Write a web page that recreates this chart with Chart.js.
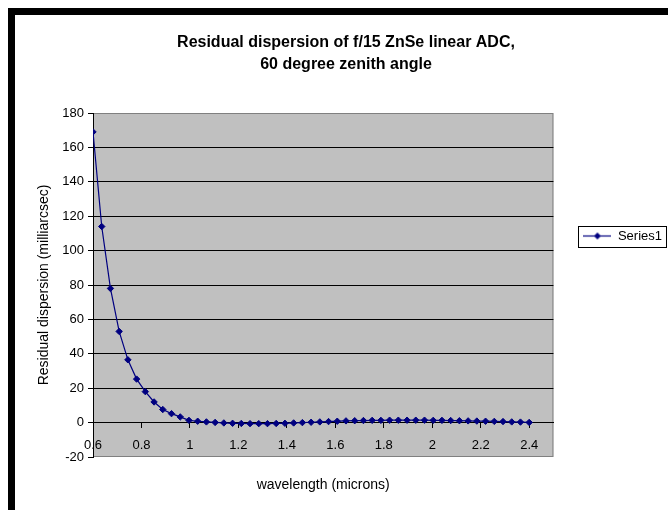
<!DOCTYPE html>
<html>
<head>
<meta charset="utf-8">
<script src="https://cdn.jsdelivr.net/npm/chart.js@4/dist/chart.umd.min.js"></script>
<style>
  html, body { margin: 0; padding: 0; background: #fff; }
  #wrap { width: 668px; height: 510px; }
</style>
</head>
<body>
<div id="wrap"><canvas id="c" width="668" height="510"></canvas></div>
<script>
// ---- data ----
const titleLines = ['Residual dispersion of f/15 ZnSe linear ADC,', '60 degree zenith angle'];
const xTitle = 'wavelength (microns)';
const yTitle = 'Residual dispersion (milliarcsec)';
const seriesName = 'Series1';

const wavelength = [0.6, 0.636, 0.672, 0.708, 0.744, 0.78, 0.816, 0.852, 0.888, 0.924,
  0.96, 0.996, 1.032, 1.068, 1.104, 1.14, 1.176, 1.212, 1.248, 1.284,
  1.32, 1.356, 1.392, 1.428, 1.464, 1.5, 1.536, 1.572, 1.608, 1.644,
  1.68, 1.716, 1.752, 1.788, 1.824, 1.86, 1.896, 1.932, 1.968, 2.004,
  2.04, 2.076, 2.112, 2.148, 2.184, 2.22, 2.256, 2.292, 2.328, 2.364, 2.4];

const dispersion = [169, 114, 78, 53, 36.5, 25.3, 18, 12, 7.6, 5.2,
  3.3, 1.3, 0.8, 0.4, 0.1, -0.2, -0.4, -0.5, -0.6, -0.6,
  -0.6, -0.5, -0.4, -0.2, 0.0, 0.2, 0.4, 0.6, 0.8, 1.0,
  1.1, 1.2, 1.3, 1.3, 1.4, 1.4, 1.4, 1.4, 1.4, 1.3,
  1.3, 1.2, 1.1, 1.0, 0.9, 0.8, 0.7, 0.6, 0.4, 0.3, 0.1];

const xTicks = [0.6, 0.8, 1, 1.2, 1.4, 1.6, 1.8, 2, 2.2, 2.4];
const xTickLabels = ['0.6', '0.8', '1', '1.2', '1.4', '1.6', '1.8', '2', '2.2', '2.4'];
const yTicks = [-20, 0, 20, 40, 60, 80, 100, 120, 140, 160, 180];
const yTickLabels = ['-20', '0', '20', '40', '60', '80', '100', '120', '140', '160', '180'];

// ---- styling ----
const FONT = '"Liberation Sans", Arial, sans-serif';
const NAVY = '#000080';

// legend icon: line with a diamond marker
const legendIcon = document.createElement('canvas');
legendIcon.width = 28; legendIcon.height = 9;
(function () {
  const g = legendIcon.getContext('2d');
  g.strokeStyle = NAVY; g.lineWidth = 1.2;
  g.beginPath(); g.moveTo(0, 4.5); g.lineTo(28, 4.5); g.stroke();
  g.fillStyle = NAVY;
  g.beginPath(); g.moveTo(14, 1); g.lineTo(17.5, 4.5); g.lineTo(14, 8); g.lineTo(10.5, 4.5); g.closePath(); g.fill();
})();

const framePlugin = {
  id: 'frame',
  beforeDraw(chart) {
    const ctx = chart.ctx;
    const a = chart.chartArea;
    ctx.save();
    ctx.fillStyle = '#ffffff';
    ctx.fillRect(0, 0, chart.width, chart.height);
    // thick black chart border (top and left visible)
    ctx.fillStyle = '#000000';
    ctx.fillRect(8, 8, chart.width - 8, 7);
    ctx.fillRect(8, 8, 7, chart.height - 8);
    // plot area
    ctx.fillStyle = '#C0C0C0';
    ctx.fillRect(a.left, a.top, a.right - a.left, a.bottom - a.top);
    ctx.strokeStyle = '#808080';
    ctx.lineWidth = 1;
    ctx.strokeRect(a.left + 0.5, a.top + 0.5, a.right - a.left - 1, a.bottom - a.top - 1);
    ctx.restore();
  },
  afterDraw(chart) {
    const lg = chart.legend;
    if (!lg || !lg.legendHitBoxes || !lg.legendHitBoxes.length) return;
    const hb = lg.legendHitBoxes[0];
    const ctx = chart.ctx;
    ctx.save();
    ctx.strokeStyle = '#000000';
    ctx.lineWidth = 1;
    const x0 = Math.round(hb.left - 5) + 0.5, y0 = Math.round(hb.top - 4) + 0.5;
    const x1 = Math.min(Math.round(hb.left + hb.width + 4), chart.width - 2) + 0.5, y1 = Math.round(hb.top + hb.height + 4) + 0.5;
    ctx.strokeRect(x0, y0, x1 - x0, y1 - y0);
    ctx.restore();
  }
};

const points = wavelength.map((x, i) => ({ x: x, y: dispersion[i] }));

new Chart(document.getElementById('c'), {
  type: 'scatter',
  data: {
    datasets: [{
      label: seriesName,
      data: points,
      showLine: true,
      borderColor: NAVY,
      backgroundColor: NAVY,
      borderWidth: 1.2,
      tension: 0,
      pointStyle: 'rectRot',
      pointRadius: 3.2,
      pointBorderWidth: 1,
      pointBackgroundColor: NAVY,
      pointBorderColor: NAVY
    }]
  },
  options: {
    responsive: false,
    animation: false,
    devicePixelRatio: 1,
    layout: { padding: { left: 20, top: 15, right: -4, bottom: 53 } },
    plugins: {
      title: {
        display: true,
        text: titleLines,
        color: '#000',
        font: { family: FONT, size: 16, weight: 'bold', lineHeight: '22px' },
        padding: { top: 17, bottom: 37 }
      },
      legend: {
        display: true,
        position: 'right',
        labels: {
          color: '#000',
          font: { family: FONT, size: 13 },
          usePointStyle: true,
          pointStyleWidth: 28,
          padding: 30,
          generateLabels(chart) {
            const items = Chart.defaults.plugins.legend.labels.generateLabels(chart);
            items.forEach(it => { it.pointStyle = legendIcon; it.lineWidth = 0; });
            return items;
          }
        }
      },
      tooltip: { enabled: false }
    },
    scales: {
      x: {
        type: 'linear',
        min: 0.6,
        max: 2.5,
        position: { y: 0 },
        afterBuildTicks(s) { s.ticks = xTicks.map(v => ({ value: v })); },
        ticks: {
          color: '#000',
          font: { family: FONT, size: 13 },
          padding: 10,
          maxRotation: 0,
          autoSkip: false,
          callback(v) { const i = xTicks.indexOf(v); return i >= 0 ? xTickLabels[i] : ''; }
        },
        grid: { display: true, drawOnChartArea: false, drawTicks: true, tickLength: 5, color: '#000', tickColor: '#000' },
        border: { display: true, color: '#000', width: 1 },
        title: {
          display: true,
          text: xTitle,
          color: '#000',
          font: { family: FONT, size: 14 },
          padding: { top: 14, bottom: 0 }
        }
      },
      y: {
        type: 'linear',
        min: -20,
        max: 180,
        position: 'left',
        afterBuildTicks(s) { s.ticks = yTicks.map(v => ({ value: v })); },
        afterFit(s) { s.width = 73; },
        ticks: {
          color: '#000',
          font: { family: FONT, size: 13 },
          padding: 4,
          autoSkip: false,
          callback(v) { const i = yTicks.indexOf(v); return i >= 0 ? yTickLabels[i] : ''; }
        },
        grid: {
          display: true,
          drawTicks: true,
          tickLength: 5,
          tickColor: '#000',
          color(ctx) {
            const v = ctx.tick ? ctx.tick.value : null;
            return (v === -20 || v === 180) ? 'rgba(0,0,0,0)' : '#000';
          }
        },
        border: { display: true, color: '#000', width: 1 },
        title: {
          display: true,
          text: yTitle,
          color: '#000',
          font: { family: FONT, size: 14 },
          padding: { top: 16, bottom: 4 }
        }
      }
    }
  },
  plugins: [framePlugin]
});
</script>
</body>
</html>
